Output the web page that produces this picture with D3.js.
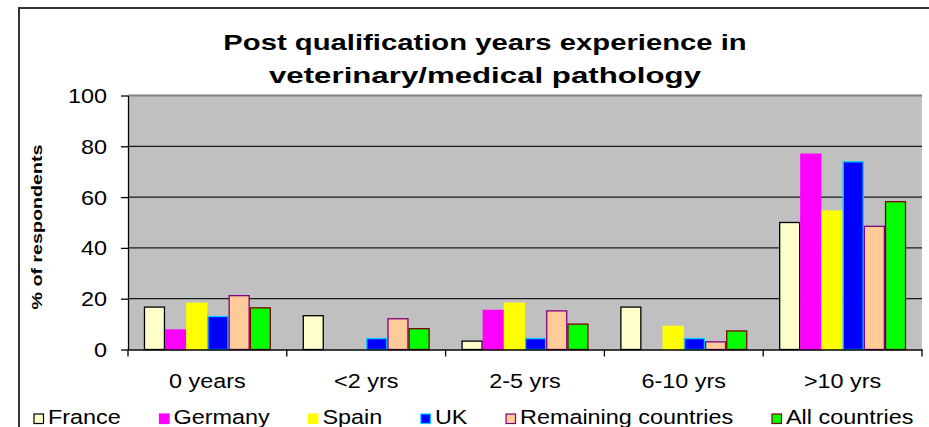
<!DOCTYPE html>
<html>
<head>
<meta charset="utf-8">
<script src="https://cdn.jsdelivr.net/npm/d3@7"></script>
<style>
  html, body { margin: 0; padding: 0; background: #fff; }
  text { font-family: "Liberation Sans", Arial, sans-serif; fill: #000; }
</style>
</head>
<body>
<svg id="chart"></svg>
<script>
const categories = ['0 years', '<2 yrs', '2-5 yrs', '6-10 yrs', '>10 yrs'];
const seriesNames = ['France', 'Germany', 'Spain', 'UK', 'Remaining countries', 'All countries'];
const france = [16.7, 13.3, 3.3, 16.7, 50.0];
const germany = [7.7, 0, 15.4, 0, 76.9];
const spain = [18.2, 0, 18.2, 9.1, 54.5];
const uk = [13.0, 4.3, 4.3, 4.3, 73.9];
const remaining = [21.2, 12.1, 15.2, 3.0, 48.5];
const allCountries = [16.4, 8.2, 10.0, 7.3, 58.2];
const yTicks = [0, 20, 40, 60, 80, 100];
const titleLines = ['Post qualification years experience in', 'veterinary/medical pathology'];

const seriesValues = [france, germany, spain, uk, remaining, allCountries];
const fills = ['#ffffcc', '#ff00ff', '#ffff00', '#0000ff', '#ffcc99', '#00ff00'];
const strokes = ['#000000', '#ff00ff', '#ffff00', '#00ccff', '#800080', '#800000'];

const W = 929, H = 427;
const plot = { left: 128, right: 922, top: 95.5, bottom: 349.5 };
const SX = 1.2; // text is drawn wider than the font's own proportions
const FS = 19.5;

const svg = d3.select('#chart').attr('width', W).attr('height', H);

// place a text with a horizontal stretch along its writing direction
function put(sel, x, y, rot, sx) {
  sel.attr('x', 0).attr('y', 0)
    .attr('transform', `translate(${x},${y}) rotate(${rot}) scale(${sx},1)`);
  return sel;
}

// outer chart border
svg.append('rect')
  .attr('x', 19).attr('y', 8).attr('width', 1000).attr('height', 600)
  .attr('fill', 'none').attr('stroke', '#333').attr('stroke-width', 2);

const x0 = d3.scaleBand().domain(categories).range([plot.left, plot.right]).padding(0);
const x1 = d3.scaleBand().domain(seriesNames).range([0, x0.bandwidth()])
  .paddingInner(0).paddingOuter(0.75);
const y = d3.scaleLinear().domain([0, 100]).range([plot.bottom, plot.top]);

// plot background
svg.append('rect')
  .attr('x', plot.left).attr('y', plot.top)
  .attr('width', plot.right - plot.left).attr('height', plot.bottom - plot.top)
  .attr('fill', '#c0c0c0');

// gridlines
svg.append('g').selectAll('line')
  .data(yTicks.filter(t => t > 0 && t < 100))
  .enter().append('line')
  .attr('x1', plot.left).attr('x2', plot.right)
  .attr('y1', d => y(d)).attr('y2', d => y(d))
  .attr('stroke', '#1a1a1a').attr('stroke-width', 1.3);

svg.append('line')
  .attr('x1', plot.left).attr('x2', plot.right)
  .attr('y1', y(100)).attr('y2', y(100))
  .attr('stroke', '#808080').attr('stroke-width', 2);

// bars
const groups = svg.append('g').selectAll('g')
  .data(categories)
  .enter().append('g')
  .attr('transform', d => `translate(${x0(d)},0)`);

groups.selectAll('rect')
  .data((c, i) => seriesNames.map((s, j) => ({ s, j, v: seriesValues[j][i] })))
  .enter().append('rect')
  .filter(d => d.v > 0)
  .attr('x', d => x1(d.s) + 0.6)
  .attr('y', d => y(d.v))
  .attr('width', x1.bandwidth() - 1.2)
  .attr('height', d => y(0) - y(d.v))
  .attr('fill', d => fills[d.j])
  .attr('stroke', d => strokes[d.j])
  .attr('stroke-width', 1.3);

// y axis
const yAxis = d3.axisLeft(y).tickValues(yTicks).tickSize(7).tickSizeOuter(0).tickPadding(0);
const gy = svg.append('g').attr('transform', `translate(${plot.left},0)`).call(yAxis);
gy.select('.domain').attr('stroke', '#000').attr('stroke-width', 1.3);
gy.selectAll('.tick line').attr('stroke', '#000').attr('stroke-width', 1.3);
gy.selectAll('.tick text').each(function () {
  const t = d3.select(this);
  t.attr('font-size', FS).attr('text-anchor', 'end').attr('dy', null)
    .style('font-family', '"Liberation Sans", Arial, sans-serif').attr('fill', '#000');
  put(t, -21, 7, 0, SX);
});

// x axis
const xAxis = d3.axisBottom(x0).tickSize(0).tickSizeOuter(0).tickPadding(0);
const gx = svg.append('g').attr('transform', `translate(0,${plot.bottom})`).call(xAxis);
gx.select('.domain').attr('stroke', '#000').attr('stroke-width', 1.3);
gx.selectAll('.tick text').each(function () {
  const t = d3.select(this);
  t.attr('font-size', FS).attr('text-anchor', 'middle').attr('dy', null)
    .style('font-family', '"Liberation Sans", Arial, sans-serif').attr('fill', '#000');
  put(t, 0, 38.5, 0, SX);
});
// boundary ticks between categories
const bounds = categories.map(c => x0(c)).concat([x0(categories[categories.length - 1]) + x0.bandwidth()]);
gx.append('g').selectAll('line')
  .data(bounds)
  .enter().append('line')
  .attr('x1', d => d).attr('x2', d => d)
  .attr('y1', 0).attr('y2', 7)
  .attr('stroke', '#000').attr('stroke-width', 1.3);

// title (second line is set a little wider, as in the original)
const cx = 485;
const titleSx = [1.33, 1.42];
titleLines.forEach((line, i) => {
  put(svg.append('text')
    .attr('font-size', 22)
    .attr('font-weight', 'bold')
    .attr('text-anchor', 'middle')
    .text(line), cx, 49.5 + i * 33, 0, titleSx[i]);
});

// y title
put(svg.append('text')
  .attr('font-size', 15.5)
  .attr('font-weight', 'bold')
  .attr('text-anchor', 'middle')
  .text('% of respondents'), 41.5, 227, -90, 1.27);

// legend: first box at 34, last box at ~772, even gaps between items
const legend = svg.append('g');
const items = seriesNames.map((name, j) => {
  const g = legend.append('g');
  const r = g.append('rect')
    .attr('y', 414).attr('width', 9.5).attr('height', 9.5)
    .attr('fill', fills[j]).attr('stroke', strokes[j]).attr('stroke-width', 1.2);
  const t = g.append('text').attr('font-size', FS).text(name);
  return { r, t, w: t.node().getComputedTextLength() * SX };
});
const boxGap = 14;
const used = d3.sum(items.slice(0, -1), d => boxGap + d.w);
const gap = (772 - 34 - used) / (items.length - 1);
let lx = 34;
items.forEach(d => {
  d.r.attr('x', lx);
  put(d.t, lx + boxGap, 423.5, 0, SX);
  lx += boxGap + d.w + gap;
});
</script>
</body>
</html>
